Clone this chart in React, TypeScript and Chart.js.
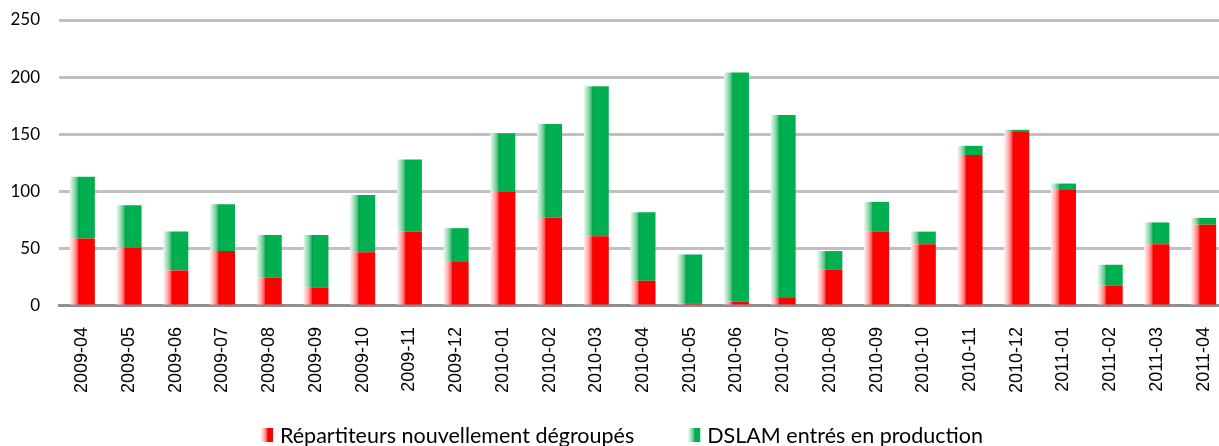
import React, { useEffect, useRef } from "react";
import { Chart, registerables } from "chart.js";

Chart.register(...registerables);

const categories = [
  "2009-04", "2009-05", "2009-06", "2009-07", "2009-08", "2009-09", "2009-10",
  "2009-11", "2009-12", "2010-01", "2010-02", "2010-03", "2010-04", "2010-05",
  "2010-06", "2010-07", "2010-08", "2010-09", "2010-10", "2010-11", "2010-12",
  "2011-01", "2011-02", "2011-03", "2011-04",
];

const repartiteurs = [59, 51, 31, 48, 25, 16, 47, 65, 39, 100, 77, 61, 22, 2, 4, 7, 32, 65, 54, 132, 152, 102, 18, 54, 71];
const dslam = [54, 37, 34, 41, 37, 46, 50, 63, 29, 51, 82, 131, 60, 43, 200, 160, 16, 26, 11, 8, 2, 5, 18, 19, 6];

const seriesLabels = ["Répartiteurs nouvellement dégroupés", "DSLAM entrés en production"];

const yMin = 0;
const yMax = 250;
const yStep = 50;

const redStops: [number, string][] = [
  [0, "#fff0f0"], [0.1, "#ffcccc"], [0.2, "#ff9c9c"], [0.3, "#ff5252"],
  [0.36, "#ee0000"], [0.4, "#ff0000"], [1, "#ff0000"],
];
const greenStops: [number, string][] = [
  [0, "#e8f8ef"], [0.1, "#bae9cd"], [0.2, "#86d5a7"], [0.3, "#40be75"],
  [0.36, "#00a046"], [0.4, "#00b050"], [1, "#00b050"],
];

const CAT_PCT = 0.535;
const CANVAS_W = 1227;
const CANVAS_H = 446;

function grad(ctx2d: CanvasRenderingContext2D, left: number, width: number, stops: [number, string][]) {
  const g = ctx2d.createLinearGradient(left, 0, left + width, 0);
  stops.forEach(([o, c]) => g.addColorStop(o, c));
  return g;
}

function barFill(stops: [number, string][]) {
  return (c: any) => {
    const chart = c.chart;
    const xs = chart.scales && chart.scales.x;
    if (!xs || c.type !== "data" || !xs.width) return stops[stops.length - 1][1];
    const center = xs.getPixelForValue(c.dataIndex);
    const w = (xs.width / categories.length) * CAT_PCT;
    return grad(chart.ctx, center - w / 2, w, stops);
  };
}

const legendPlugin = {
  id: "customLegend",
  afterDraw(chart: any) {
    const ctx: CanvasRenderingContext2D = chart.ctx;
    const stopsList = [redStops, greenStops];
    ctx.save();
    ctx.font = '21.5px Lato, "Open Sans", sans-serif';
    const boxW = 12;
    const boxH = 14;
    const gapText = 7;
    const gapItem = 54;
    const widths = seriesLabels.map((t) => ctx.measureText(t).width);
    const total = widths.reduce((a, w) => a + boxW + gapText + w, 0) + gapItem * (seriesLabels.length - 1);
    let x = 622 - total / 2;
    const baseline = 443;
    seriesLabels.forEach((t, i) => {
      ctx.fillStyle = grad(ctx, x, boxW, stopsList[i].map(([o, c]) => [Math.min(1, o * 1.6), c] as [number, string]));
      ctx.fillRect(x, baseline - 15, boxW, boxH);
      x += boxW + gapText;
      ctx.fillStyle = "#000000";
      ctx.textBaseline = "alphabetic";
      ctx.textAlign = "left";
      ctx.fillText(t, x, baseline);
      x += widths[i] + gapItem;
    });
    ctx.restore();
  },
};

export default function App() {
  const ref = useRef<HTMLCanvasElement | null>(null);

  useEffect(() => {
    document.body.style.margin = "0";
    const canvas = ref.current;
    if (!canvas) return;
    const chart = new Chart(canvas, {
      type: "bar",
      data: {
        labels: categories,
        datasets: [
          {
            label: seriesLabels[0],
            data: repartiteurs,
            backgroundColor: barFill(redStops),
            borderWidth: 0,
            barPercentage: 1,
            categoryPercentage: CAT_PCT,
          },
          {
            label: seriesLabels[1],
            data: dslam,
            backgroundColor: barFill(greenStops),
            borderWidth: 0,
            barPercentage: 1,
            categoryPercentage: CAT_PCT,
          },
        ],
      },
      options: {
        animation: false,
        responsive: false,
        maintainAspectRatio: false,
        layout: { padding: { left: 10, right: 0, top: 20, bottom: 53 } },
        plugins: {
          legend: { display: false },
          tooltip: { enabled: false },
          title: { display: false },
        },
        scales: {
          x: {
            stacked: true,
            grid: { display: false, drawTicks: true, tickLength: 21 },
            border: { display: true, color: "#8f8f8f", width: 3 },
            ticks: {
              autoSkip: false,
              minRotation: 90,
              maxRotation: 90,
              padding: 0,
              color: "#000000",
              font: { family: '"Liberation Sans", Arial, sans-serif', size: 18 },
            },
          },
          y: {
            stacked: true,
            min: yMin,
            max: yMax,
            grid: { color: "#c0c0c0", lineWidth: 3, drawTicks: true, tickLength: 19, tickColor: "rgba(0,0,0,0)" },
            border: { display: false },
            ticks: {
              stepSize: yStep,
              padding: 0,
              color: "#000000",
              font: { family: 'Lato, "Open Sans", sans-serif', size: 17 },
            },
            afterFit: (scale: any) => {
              scale.width = 49;
            },
          },
        },
      },
      plugins: [legendPlugin],
    });
    return () => chart.destroy();
  }, []);

  return (
    <div style={{ width: 1219, height: 446, overflow: "hidden" }}>
      <canvas ref={ref} width={CANVAS_W} height={CANVAS_H} style={{ display: "block" }} />
    </div>
  );
}
